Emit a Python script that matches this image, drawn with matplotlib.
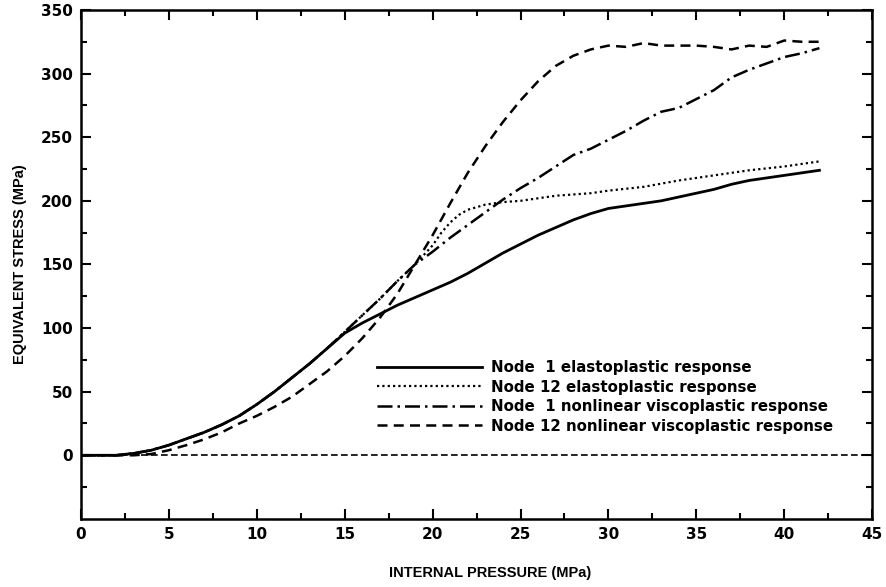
import matplotlib
matplotlib.use("Agg")
import matplotlib.pyplot as plt
import numpy as np

# values
x_n1_elasto = [0, 2, 3, 4, 5, 6, 7, 8, 9, 10, 11, 12, 13, 14, 15, 16, 17, 18, 19, 20,
               21, 22, 23, 24, 25, 26, 27, 28, 29, 30, 31, 32, 33, 34, 35, 36, 37, 38,
               39, 40, 41, 42]
y_n1_elasto = [0, 0, 1.5, 4, 8, 13, 18, 24, 31, 40, 50, 61, 72, 84, 96, 104, 111, 118,
               124, 130, 136, 143, 151, 159, 166, 173, 179, 185, 190, 194, 196, 198, 200,
               203, 206, 209, 213, 216, 218, 220, 222, 224]

x_n12_elasto = [0, 2, 3, 4, 5, 6, 7, 8, 9, 10, 11, 12, 13, 14, 15, 16, 17, 18, 19, 20,
                20.5, 21, 21.5, 22, 22.5, 23, 24, 25, 26, 27, 28, 29, 30, 32, 34, 36, 38,
                40, 42]
y_n12_elasto = [0, 0, 1.5, 4, 8, 13, 18, 24, 31, 40, 50, 61, 72, 84, 97, 110, 123, 137,
                150, 165, 175, 183, 189, 193, 195, 197, 199, 200, 202, 204, 205, 206, 208,
                211, 216, 220, 224, 227, 231]

x_n1_visco = [0, 2, 3, 4, 5, 6, 7, 8, 9, 10, 11, 12, 13, 14, 15, 16, 17, 18, 19, 20,
              21, 22, 23, 24, 25, 26, 27, 28, 29, 30, 31, 32, 33, 34, 35, 36, 37, 38,
              39, 40, 41, 42]
y_n1_visco = [0, 0, 1.5, 4, 8, 13, 18, 24, 31, 40, 50, 61, 72, 84, 97, 110, 123, 137,
              150, 160, 171, 181, 191, 201, 210, 218, 227, 236, 241, 248, 255, 263, 270,
              273, 280, 287, 297, 303, 308, 313, 316, 320]

x_n12_visco = [0, 3, 4, 5, 6, 7, 8, 9, 10, 11, 12, 13, 14, 15, 16, 17, 18, 19, 20, 21,
               22, 23, 24, 25, 26, 27, 28, 29, 30, 31, 32, 33, 34, 35, 36, 37, 38, 39,
               40, 41, 42]
y_n12_visco = [0, 0, 1, 4, 8, 12.5, 18, 25, 31, 38, 46, 56, 66, 78, 92, 108, 127, 150,
               173, 198, 222, 243, 262, 279, 294, 306, 314, 319, 322, 321, 324, 322, 322,
               322, 321, 319, 322, 321, 326, 325, 325]

labels = ["Node  1 elastoplastic response",
          "Node 12 elastoplastic response",
          "Node  1 nonlinear viscoplastic response",
          "Node 12 nonlinear viscoplastic response"]

plt.rcParams["font.family"] = ["DejaVu Sans"]
plt.rcParams["font.weight"] = "bold"

fig = plt.figure(figsize=(8.87, 5.87), dpi=100)
ax = fig.add_axes([0.0913, 0.116, 0.892, 0.867])

ax.axhline(0, color="black", lw=1.2, ls=(0, (4, 2)))

ax.plot(x_n1_elasto, y_n1_elasto, color="black", lw=2.0, ls="-", label=labels[0])
ax.plot(x_n12_elasto, y_n12_elasto, color="black", lw=1.6, ls=(0, (1, 1.4)), label=labels[1])
ax.plot(x_n1_visco, y_n1_visco, color="black", lw=1.8, ls=(0, (6, 2, 1, 2)), label=labels[2])
ax.plot(x_n12_visco, y_n12_visco, color="black", lw=1.8, ls=(0, (4, 2.5)), label=labels[3])

ax.set_xlim(0, 45)
ax.set_ylim(-50, 350)
ax.set_xticks(np.arange(0, 46, 5))
ax.set_xticks(np.arange(2.5, 45, 5), minor=True)
ax.set_yticks(np.arange(0, 351, 50))
ax.set_yticks(np.arange(-25, 350, 50), minor=True)

ax.tick_params(which="both", direction="in", top=True, right=True, width=1.5,
               labelsize=11, pad=6)
ax.tick_params(which="major", length=7)
ax.tick_params(which="minor", length=4)
for sp in ax.spines.values():
    sp.set_linewidth(1.8)

ax.set_xlabel("INTERNAL PRESSURE (MPa)", fontsize=10.5, fontweight="bold",
              family="Liberation Sans")
ax.xaxis.set_label_coords(0.517, -0.092)
ax.set_ylabel("EQUIVALENT STRESS (MPa)", fontsize=10.5, fontweight="bold",
              family="Liberation Sans", labelpad=10)

ax.legend(loc="center left", bbox_to_anchor=(0.365, 0.24), frameon=False,
          prop={"family": "DejaVu Sans", "weight": "bold", "size": 10.8},
          handlelength=7.0, handletextpad=0.55, labelspacing=0.3, borderpad=0)

fig.savefig("out.png", dpi=100)
